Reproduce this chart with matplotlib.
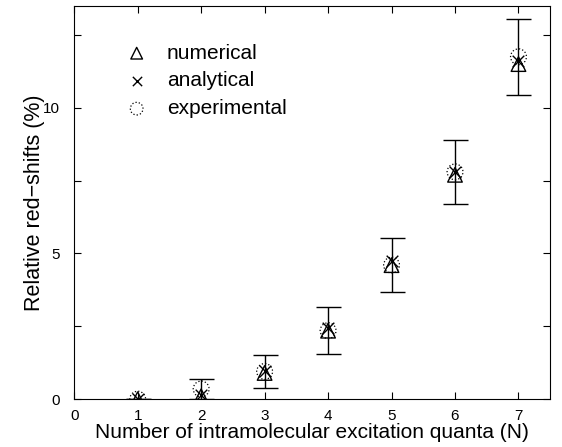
import matplotlib
matplotlib.use("Agg")
import matplotlib.pyplot as plt
from matplotlib.ticker import MultipleLocator

plt.rcParams['font.family'] = ['Liberation Sans', 'DejaVu Sans']

# values
quanta = [1, 2, 3, 4, 5, 6, 7]
numerical = [0.0, 0.1, 0.9, 2.35, 4.6, 7.7, 11.5]
analytical = [0.02, 0.15, 0.95, 2.45, 4.75, 7.8, 11.6]
experimental = [0.0, 0.35, 0.95, 2.35, 4.6, 7.8, 11.75]
exp_error = [0.0, 0.35, 0.58, 0.8, 0.92, 1.1, 1.3]

fig, ax = plt.subplots(figsize=(5.62, 4.47), dpi=100)
fig.subplots_adjust(left=0.132, right=0.979, top=0.987, bottom=0.107)

# error bars of the experiment
ax.errorbar(quanta, experimental, yerr=exp_error, fmt='none', ecolor='black',
            elinewidth=1.0, capsize=9, capthick=1.0)

ax.scatter(quanta, numerical, marker='^', s=110, facecolors='none',
           edgecolors='black', linewidths=1.0, label='numerical', zorder=3)
ax.scatter(quanta, analytical, marker='x', s=70, color='black',
           linewidths=1.0, label='analytical', zorder=4)
ax.scatter(quanta, experimental, marker='o', s=130, facecolors='none',
           edgecolors='black', linewidths=0.9, linestyle=':',
           label='experimental', zorder=3)

ax.set_xlim(0, 7.5)
ax.set_ylim(0, 13.5)
ax.xaxis.set_major_locator(MultipleLocator(1))
ax.yaxis.set_major_locator(MultipleLocator(5))
ax.yaxis.set_minor_locator(MultipleLocator(2.5))
ax.tick_params(which='both', direction='in', top=True, right=True,
               labelsize=11, length=5, width=0.8)
ax.tick_params(axis='x', pad=7)
ax.tick_params(axis='y', pad=10)

ax.set_xlabel("Number of intramolecular excitation quanta (N)", fontsize=15,
              labelpad=0)
ax.set_ylabel("Relative red\u2212shifts (%)", fontsize=15.5, labelpad=-1)

ax.legend(loc='upper left', bbox_to_anchor=(0.07, 0.925), frameon=False,
          fontsize=15, handletextpad=0.45, labelspacing=0.42,
          scatterpoints=1, markerscale=0.8, borderaxespad=0)

plt.savefig("out.png", dpi=100)
